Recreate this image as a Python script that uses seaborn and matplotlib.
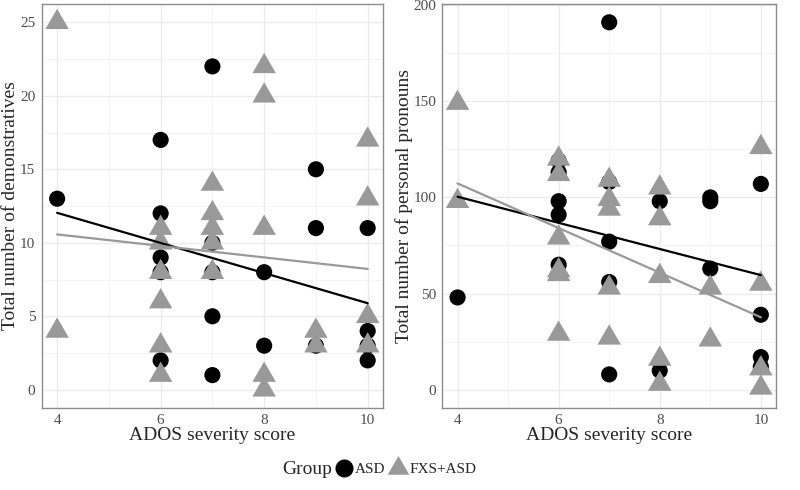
import matplotlib
matplotlib.use("Agg")
import matplotlib.pyplot as plt
from matplotlib.lines import Line2D
import numpy as np
import pandas as pd
import seaborn as sns

# ADOS severity score and counts per child, ASD group
ados_asd = [4, 6, 6, 6, 6, 6, 7, 7, 7, 7, 7, 8, 8, 9, 9, 9, 10, 10, 10, 10]
demo_asd = [13, 17, 12, 9, 8, 2, 22, 10, 8, 5, 1, 8, 3, 15, 11, 3, 11, 4, 3, 2]
pron_asd = [48, 119, 113, 98, 91, 65, 191, 108, 77, 56, 8, 98, 10, 100, 98, 63, 107, 39, 17, 12]

# FXS+ASD group
ados_fxs = [4, 4, 6, 6, 6, 6, 6, 6, 7, 7, 7, 7, 7, 8, 8, 8, 8, 8, 9, 9, 10, 10, 10, 10]
demo_fxs = [25, 4, 11, 10, 8, 6, 3, 1, 14, 12, 11, 10, 8, 22, 20, 11, 1, 0, 4, 3, 17, 13, 5, 3]
pron_fxs = [149, 98, 120, 112, 79, 62, 60, 29, 109, 99, 94, 53, 27, 105, 89, 59, 16, 3, 53, 26, 126, 55, 11, 1]

groups = ["ASD", "FXS+ASD"]
colors = {"ASD": "black", "FXS+ASD": "#999999"}

df = pd.DataFrame({
    "ados": ados_asd + ados_fxs,
    "demo": demo_asd + demo_fxs,
    "pron": pron_asd + pron_fxs,
    "Group": ["ASD"] * len(ados_asd) + ["FXS+ASD"] * len(ados_fxs),
})

sns.set_style("white")
plt.rcParams["font.family"] = ["Liberation Serif", "DejaVu Serif"]

tri = [(0, 1), (-0.866, -0.5), (0.866, -0.5)]
markers = {"ASD": "o", "FXS+ASD": tri}
sizes = {"ASD": 135, "FXS+ASD": 380}

fig = plt.figure(figsize=(8, 4.9), dpi=100)
ax1 = fig.add_axes([0.052, 0.167, 0.427, 0.825])
ax2 = fig.add_axes([0.553, 0.167, 0.417, 0.825])

panels = [
    (ax1, "demo", "Total number of demonstratives", (-1.25, 26.25), [0, 5, 10, 15, 20, 25]),
    (ax2, "pron", "Total number of personal pronouns", (-9.55, 200.55), [0, 50, 100, 150, 200]),
]

for ax, col, ylab, ylim, yt in panels:
    sns.scatterplot(data=df, x="ados", y=col, hue="Group", style="Group", size="Group",
                    palette=colors, markers=markers, sizes=sizes, linewidth=0,
                    legend=False, ax=ax, zorder=3)
    for g in groups:
        sns.regplot(data=df[df.Group == g], x="ados", y=col, scatter=False, ci=None,
                    color=colors[g], line_kws={"lw": 1.6, "zorder": 4}, ax=ax)
    ax.set_xlim(3.7, 10.3)
    ax.set_ylim(*ylim)
    ax.set_xticks([4, 6, 8, 10])
    ax.set_xticks([5, 7, 9], minor=True)
    ax.set_yticks(yt)
    step = yt[1] - yt[0]
    ax.set_yticks([v + step / 2 for v in yt[:-1]], minor=True)
    ax.grid(which="major", color="#EBEBEB", lw=1.0, zorder=0)
    ax.grid(which="minor", color="#F3F3F3", lw=0.6, zorder=0)
    ax.set_axisbelow(True)
    for s in ax.spines.values():
        s.set_color("#8c8c8c")
        s.set_linewidth(1.0)
    ax.tick_params(which="major", length=3, width=0.8, color="#555555",
                   labelsize=11, labelcolor="#4D4D4D", pad=1.5)
    ax.tick_params(which="minor", length=0)
    ax.set_xlabel("ADOS severity score", fontsize=14, labelpad=0)
    ax.set_ylabel(ylab, fontsize=14, labelpad=0.5)

fig.text(282 / 800, 1 - 469 / 490, "Group", fontsize=14, va="center", ha="left")
handles = [
    Line2D([], [], ls="none", marker="o", color="black", markersize=13, markeredgewidth=0),
    Line2D([], [], ls="none", marker=tri, color="#999999", markersize=18, markeredgewidth=0),
]
fig.legend(handles, groups, ncol=2, loc="center left", bbox_to_anchor=(336 / 800, 1 - 469 / 490),
           frameon=False, fontsize=11, handlelength=1.0, handletextpad=0.25,
           columnspacing=0.3, borderpad=0, borderaxespad=0)

fig.savefig("out.png", dpi=100)
